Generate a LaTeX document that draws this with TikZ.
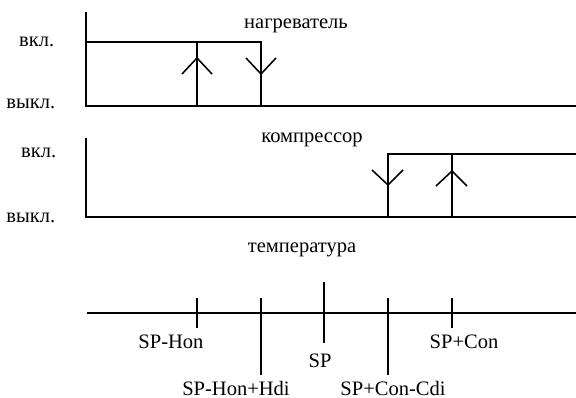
\documentclass[tikz,border=0pt]{standalone}
\usepackage{fontspec}
\setmainfont{Liberation Serif}
\begin{document}
\begin{tikzpicture}[x=0.25mm,y=-0.25mm,line width=1.1pt,
  lbl/.style={anchor=base,inner sep=0pt,font=\fontsize{14.6}{17}\selectfont},
  lvl/.style={lbl,anchor=base east}]
\useasboundingbox (0,0) rectangle (576,398);

% heater
\node[lbl] (heat) at (296,29) {нагреватель};
\node[lvl] (hon) at (55,47) {вкл.};
\node[lvl] (hoff) at (56,109) {выкл.};
\path[draw] (86,12) -- (86,106) -- (576,106);
\path[draw] (86,42) -- (261,42) -- (261,106);
\draw (197,42) -- (197,106);
\draw (182,74) -- (197,58) -- (212,74);
\draw (246,58) -- (261,74) -- (276,58);

% compressor
\node[lbl] (comp) at (312,142) {компрессор};
\node[lvl] (con) at (57,157) {вкл.};
\node[lvl] (coff) at (56,222) {выкл.};
\path[draw] (86,138) -- (86,217) -- (576,217);
\path[draw] (388,217) -- (388,154) -- (576,154);
\draw (452,154) -- (452,217);
\draw (372,170) -- (388,185) -- (403,170);
\draw (436,186) -- (452,171) -- (467,186);

% temperature
\node[lbl] (temp) at (302,252) {температура};
\draw (87,313) -- (576,313);
\draw (197,298) -- (197,328);
\draw (261,298) -- (261,375);
\draw (324,282) -- (324,343);
\draw (388,298) -- (388,375);
\draw (452,298) -- (452,328);
\node[lbl] (hn) at (171,348) {SP-Hon};
\node[lbl] (sp) at (320,367) {SP};
\node[lbl] (cn) at (464,348) {SP+Con};
\node[lbl] (hd) at (236,395) {SP-Hon+Hdi};
\node[lbl] (cd) at (393,395) {SP+Con-Cdi};
\end{tikzpicture}
\end{document}
